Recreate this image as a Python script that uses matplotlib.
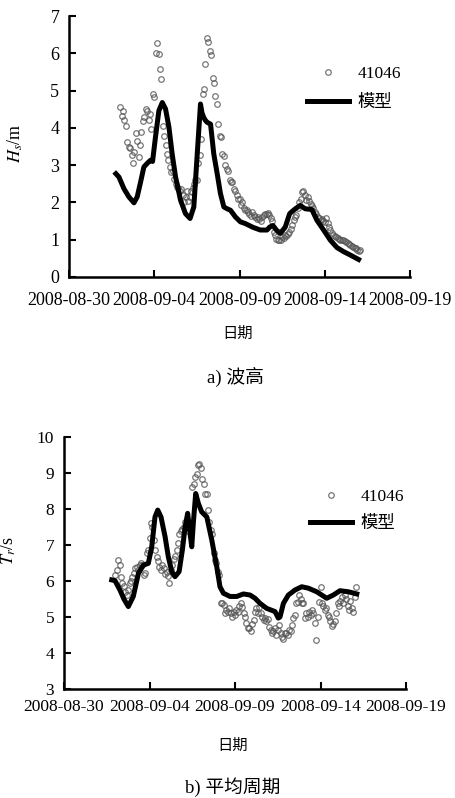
import matplotlib
matplotlib.use("Agg")
import matplotlib.pyplot as plt
import matplotlib.dates as mdates
import pandas as pd

plt.rcParams['font.family'] = ['Liberation Serif', 'Noto Sans CJK SC']
plt.rcParams['mathtext.fontset'] = 'stix'

# 観測値 (41046), 2時間ごと, 2008-09-02 00:00 から
obs_start = '2008-09-02 00:00'
obs_hs = [
    4.55, 4.33, 4.45, 4.21, 4.06, 3.61, 3.50, 3.45, 3.26, 3.05, 3.35, 3.85,
    3.66, 3.21, 3.53, 3.90, 4.19, 4.28, 4.50, 4.45, 4.20, 4.38, 3.97, 4.91,
    4.82, 6.02, 6.29, 5.98, 5.58, 5.31, 4.06, 3.79, 3.53, 3.30, 3.13, 2.95,
    2.81, 2.85, 2.64, 2.50, 2.42, 2.38, 2.30, 2.35, 2.20, 2.01, 2.15, 2.30,
    2.05, 2.15, 2.30, 2.40, 2.50, 2.60, 2.59, 3.05, 3.26, 3.70, 4.90, 5.05,
    5.71, 6.42, 6.30, 6.05, 5.95, 5.35, 5.20, 4.86, 4.65, 4.10, 3.78, 3.75,
    3.30, 3.25, 3.00, 2.90, 2.85, 2.59, 2.55, 2.55, 2.37, 2.30, 2.19, 2.08,
    2.10, 1.92, 2.00, 1.85, 1.79, 1.80, 1.75, 1.70, 1.63, 1.75, 1.65, 1.60,
    1.55, 1.62, 1.55, 1.50, 1.60, 1.66, 1.70, 1.68, 1.72, 1.65, 1.58, 1.50,
    1.21, 1.12, 1.03, 1.00, 0.98, 1.00, 1.07, 1.05, 1.12, 1.10, 1.15, 1.21,
    1.30, 1.39, 1.52, 1.60, 1.66, 1.85, 2.01, 2.10, 2.28, 2.32, 2.19, 2.06,
    2.15, 2.05, 1.95, 1.90, 1.85, 1.75, 1.70, 1.62, 1.57, 1.53, 1.55, 1.50,
    1.48, 1.57, 1.44, 1.35, 1.26, 1.17, 1.12, 1.10, 1.08, 1.05, 1.03, 1.00,
    0.99, 1.00, 0.97, 0.95, 0.92, 0.88, 0.85, 0.83, 0.81, 0.78, 0.77, 0.72,
    0.70, 0.72,
]
obs_tr = [
    6.17, 6.30, 6.58, 6.44, 6.12, 5.94, 5.85, 5.70, 5.60, 5.75, 5.94, 6.00,
    6.10, 6.21, 6.35, 6.40, 6.30, 6.45, 6.50, 6.45, 6.17, 6.21, 6.77, 6.86,
    7.20, 7.60, 7.50, 7.14, 6.86, 6.67, 6.55, 6.40, 6.30, 6.45, 6.35, 6.20,
    6.25, 6.15, 5.94, 6.30, 6.45, 6.60, 6.70, 6.86, 7.05, 7.30, 7.40, 7.45,
    7.50, 7.64, 7.55, 7.40, 7.50, 7.60, 8.60, 8.70, 8.89, 8.98, 9.21, 9.26,
    9.15, 8.84, 8.70, 8.43, 8.43, 7.97, 7.64, 7.41, 7.30, 6.77, 6.58, 6.49,
    6.26, 6.17, 5.40, 5.38, 5.34, 5.10, 5.20, 5.15, 5.25, 5.10, 5.00, 5.15,
    5.05, 5.20, 5.15, 5.30, 5.38, 5.28, 5.10, 5.01, 4.83, 4.70, 4.69, 4.60,
    4.80, 4.92, 5.15, 5.24, 5.10, 5.28, 5.10, 5.00, 4.92, 4.97, 4.88, 4.95,
    4.73, 4.64, 4.55, 4.60, 4.70, 4.50, 4.65, 4.78, 4.55, 4.45, 4.40, 4.55,
    4.55, 4.50, 4.65, 4.60, 4.78, 4.97, 5.06, 5.38, 5.43, 5.60, 5.50, 5.38,
    5.38, 4.97, 5.10, 5.00, 5.15, 5.05, 5.20, 5.10, 4.83, 4.37, 5.00, 5.43,
    5.84, 5.40, 5.30, 5.20, 5.25, 5.05, 5.00, 4.90, 4.75, 4.80, 4.90, 5.10,
    5.38, 5.30, 5.45, 5.55, 5.40, 5.60, 5.50, 5.30, 5.20, 5.45, 5.25, 5.15,
    5.55, 5.84,
]

# 模型 (2008-08-30 からの日数)
model_day_hs = [
    2.75, 2.93, 3.22, 3.51, 3.81, 4.00, 4.20, 4.39, 4.59, 4.78,
    4.90, 5.07, 5.27, 5.47, 5.66, 5.86, 6.05, 6.25, 6.54, 6.83,
    7.10, 7.32, 7.52, 7.71, 7.80, 7.90, 8.00, 8.10, 8.30, 8.49,
    8.69, 8.88, 9.08, 9.27, 9.47, 9.76, 10.05, 10.35, 10.80, 11.22,
    11.61, 11.77, 11.96, 12.16, 12.39, 12.68, 12.94, 13.27, 13.56, 13.85,
    14.24, 14.54, 14.93, 15.32, 15.71, 16.10, 16.49, 16.98,
]
model_hs = [
    2.77, 2.68, 2.37, 2.15, 1.99, 2.15, 2.55, 2.95, 3.05, 3.13,
    3.10, 3.75, 4.46, 4.68, 4.51, 4.02, 3.30, 2.68, 2.06, 1.70,
    1.57, 1.88, 3.30, 4.64, 4.40, 4.28, 4.20, 4.15, 4.10, 3.30,
    2.77, 2.24, 1.88, 1.83, 1.79, 1.61, 1.48, 1.43, 1.33, 1.26,
    1.26, 1.34, 1.38, 1.26, 1.17, 1.34, 1.70, 1.83, 1.92, 1.83,
    1.81, 1.52, 1.26, 0.99, 0.79, 0.68, 0.59, 0.47,
]
model_day_tr = [
    2.79, 2.98, 3.27, 3.50, 3.76, 4.05, 4.35, 4.64, 4.93, 5.13,
    5.32, 5.48, 5.67, 5.91, 6.10, 6.30, 6.49, 6.73, 6.92, 7.08,
    7.23, 7.37, 7.47, 7.56, 7.70, 7.86, 8.05, 8.35, 8.64, 8.93,
    9.12, 9.32, 9.71, 10.10, 10.49, 10.88, 11.17, 11.46, 11.85, 12.34,
    12.53, 12.63, 12.83, 13.12, 13.51, 13.90, 14.29, 14.78, 15.07, 15.36,
    15.75, 16.14, 16.63, 17.12,
]
model_tr = [
    6.03, 6.01, 5.75, 5.50, 5.29, 5.57, 6.21, 6.44, 6.49, 6.95,
    7.78, 7.97, 7.78, 7.23, 6.67, 6.26, 6.12, 6.26, 6.86, 7.50,
    7.88, 7.32, 6.95, 7.60, 8.43, 8.15, 7.92, 7.78, 7.14, 6.40,
    5.84, 5.66, 5.57, 5.57, 5.64, 5.61, 5.52, 5.38, 5.24, 5.15,
    4.97, 5.00, 5.38, 5.61, 5.75, 5.84, 5.80, 5.70, 5.61, 5.52,
    5.61, 5.73, 5.70, 5.64,
]

base = pd.Timestamp('2008-08-30')
xticks = pd.date_range('2008-08-30', '2008-09-19', freq='5D')


def draw_panel(ax, obs, model_day, model, ylim, ylabel, tick_size, xpad,
               leg_xy, leg_space, ylab_xy, xlab_xy):
    t_obs = pd.date_range(obs_start, periods=len(obs), freq='2h')
    t_mod = base + pd.to_timedelta(model_day, unit='D')
    ax.plot(t_obs, obs, 'o', ls='none', ms=4, mfc='none', mec='#555555',
            mew=0.9, alpha=0.8, label='41046')
    ax.plot(t_mod, model, '-', color='black', lw=3.6, label='模型')
    ax.set_xlim(xticks[0], xticks[-1])
    ax.set_ylim(*ylim)
    ax.set_yticks(range(ylim[0], ylim[1] + 1))
    ax.set_xticks(xticks)
    ax.xaxis.set_major_formatter(mdates.DateFormatter('%Y-%m-%d'))
    ax.spines['top'].set_visible(False)
    ax.spines['right'].set_visible(False)
    for s in ['left', 'bottom']:
        ax.spines[s].set_linewidth(1.8)
    ax.tick_params(direction='in', length=5, width=1.5, labelsize=tick_size)
    ax.tick_params(axis='x', pad=xpad)
    ax.tick_params(axis='y', pad=7)
    ax.set_ylabel(ylabel, fontsize=13)
    ax.yaxis.set_label_coords(*ylab_xy)
    ax.set_xlabel('日期', fontsize=11)
    ax.xaxis.set_label_coords(*xlab_xy)
    ax.legend(loc='upper left', bbox_to_anchor=leg_xy, frameon=False,
              fontsize=12.5, numpoints=1, handlelength=2.4, borderpad=0,
              borderaxespad=0, labelspacing=leg_space, handletextpad=0.5)


fig = plt.figure(figsize=(4.56, 7.98), dpi=100)
ax1 = fig.add_axes([0.1513, 0.6529, 0.748, 0.327])
ax2 = fig.add_axes([0.1404, 0.1366, 0.75, 0.3158])

draw_panel(ax1, obs_hs, model_day_hs, model_hs, (0, 7), r'$H_s$/m',
           13, 11, (0.698, 0.81), 0.74, (-0.13, 0.513), (0.493, -0.19))
draw_panel(ax2, obs_tr, model_day_tr, model_tr, (3, 10), r'$T_r$/s',
           12.5, 7, (0.72, 0.794), 0.62, (-0.135, 0.55), (0.494, -0.198))

fig.text(235 / 456, 1 - 377 / 798, 'a) 波高', ha='center', va='center',
         fontsize=13.5)
fig.text(233 / 456, 1 - 787 / 798, 'b) 平均周期', ha='center', va='center',
         fontsize=13.5)

fig.savefig('out.png', dpi=100)
